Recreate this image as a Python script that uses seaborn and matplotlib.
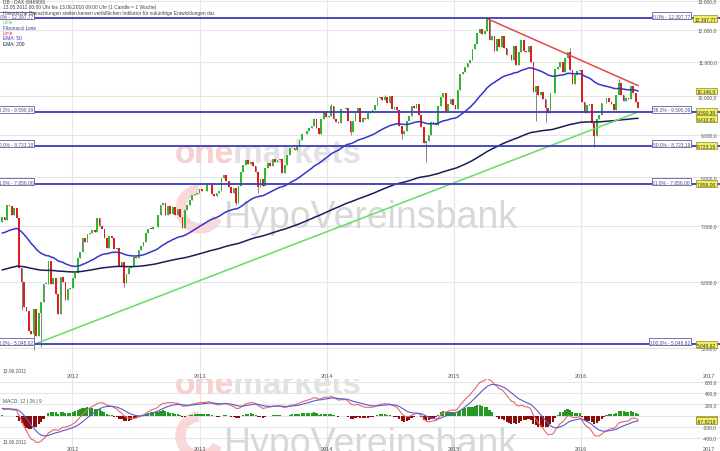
import numpy as np
import pandas as pd
import matplotlib
matplotlib.use("Agg")
import matplotlib.pyplot as plt
import matplotlib.transforms as mtransforms
from matplotlib.patches import Wedge
import seaborn as sns

# DAX weekly closes (weeks starting monday)
closes_2011 = [7164, 7121, 7419, 7400, 7220, 7344, 7158, 6236, 5998, 5602, 5537, 5246, 5189, 5573,
               5164, 5502, 5676, 5967, 5970, 6346, 5966, 6057, 5800, 5492, 6080, 6000, 5702, 5878, 5898]
closes_2012 = [6057, 6143, 6404, 6512, 6766, 6692, 6849, 6864, 6921, 6880, 7157, 6996, 6947, 6775,
               6583, 6801, 6762, 6561, 6579, 6272, 6339, 5978, 6131, 6230, 6264, 6416, 6410, 6557,
               6630, 6690, 6865, 6945, 6944, 6972, 6970, 7214, 7412, 7451, 7216, 7398, 7233, 7380,
               7203, 7335, 7163, 6950, 7309, 7405, 7518, 7614, 7636, 7655, 7756]
closes_2013 = [7715, 7702, 7833, 7834, 7634, 7593, 7661, 7708, 7987, 8058, 7913, 7795, 7658, 7767,
               7460, 7814, 8122, 8278, 8398, 8305, 8349, 8255, 8128, 7790, 7959, 7806, 8212, 8332,
               8262, 8410, 8349, 8391, 8416, 8104, 8276, 8509, 8676, 8666, 8622, 8725, 8868, 9010,
               9010, 9078, 9168, 9226, 9406, 9172, 9006, 9400, 9589, 9435]
closes_2014 = [9473, 9743, 9392, 9306, 9290, 9663, 9657, 9692, 9351, 9056, 9343, 9588, 9695, 9315,
               9409, 9402, 9556, 9581, 9630, 9768, 9944, 9987, 9913, 9987, 9815, 10009, 9666, 9720,
               9644, 9210, 9010, 9092, 9339, 9470, 9747, 9691, 9799, 9490, 9195, 8788, 8850, 8988,
               9326, 9291, 9252, 9732, 9980, 10087, 9594, 9787, 9922, 9765]
closes_2015 = [9648, 10167, 10649, 10694, 10846, 10963, 11051, 11402, 11551, 11902, 12039, 11868,
               11967, 12375, 11689, 11811, 11327, 11709, 11447, 11815, 11414, 11197, 11196, 11041,
               11492, 10890, 11315, 11674, 11347, 11309, 11490, 10985, 10124, 10298, 10038, 10123,
               9916, 9688, 9553, 10096, 10104, 10795, 10850, 10988, 10708, 11119, 11293, 10752,
               10340, 10608, 10727, 10743]
closes_2016 = [9849, 9545, 9765, 9798, 9286, 8967, 9388, 9513, 9824, 9831, 9950, 9851, 9795, 9622,
               10051, 10373, 10039, 9870, 9953, 9917, 10287, 10103, 9834, 9690]
first_open = 7069

# notable wick extremes
wick_low_dates = ["2011-08-08", "2011-09-12", "2011-10-03", "2012-05-28", "2013-04-15", "2013-06-17",
                  "2014-03-10", "2014-08-04", "2014-10-13", "2015-08-24", "2015-09-21", "2016-02-08"]
wick_low_values = [5550, 4965, 5020, 5914, 7420, 7655, 8990, 8903, 8355, 9338, 9325, 8699]
wick_high_dates = ["2014-01-13", "2014-06-16", "2015-04-06", "2015-11-30", "2016-04-18"]
wick_high_values = [9794, 10050, 12391, 11430, 10486]

# fibonacci retracement
fib_high = 12397.77
fib_low = 5048.62
fib_ratios = [0.0, 0.382, 0.5, 0.618, 1.0]

# hand drawn trend lines
green_line_dates = ["2011-09-12", "2016-06-13"]
green_line_values = [5048.62, 9580]
red_line_dates = ["2015-04-06", "2016-06-13"]
red_line_values = [12390, 10300]

# indicator start values (history before the chart window)
ema50_seed, ema200_seed = 6850, 6190
ema12_seed, ema26_seed, signal_seed = 7280, 7130, 120

years = [2012, 2013, 2014, 2015, 2016, 2017]
price_ticks = [5000, 6000, 7000, 8000, 9000, 10000, 11000, 12000, 13000]
macd_ticks = [600, 400, 200, -200, -400]
right_labels = ["10.146,0", "9.410,81"]
macd_labels = ["-28,1034", "-97,8219"]


def ema(values, span, start):
    alpha = 2 / (span + 1)
    out, prev = [], start
    for v in values:
        prev = alpha * v + (1 - alpha) * prev
        out.append(prev)
    return np.array(out)


def de(v, nd):
    s = f"{v:,.{nd}f}"
    return s.replace(",", "#").replace(".", ",").replace("#", ".")


closes = closes_2011 + closes_2012 + closes_2013 + closes_2014 + closes_2015 + closes_2016
dates = pd.date_range("2011-06-13", periods=len(closes), freq="W-MON")
df = pd.DataFrame({"date": dates, "close": closes})
df["open"] = [first_open] + closes[:-1]
df["high"] = df[["open", "close"]].max(axis=1)
df["low"] = df[["open", "close"]].min(axis=1)
for d, v in zip(wick_low_dates, wick_low_values):
    df.loc[df.date == pd.Timestamp(d), "low"] = v
for d, v in zip(wick_high_dates, wick_high_values):
    df.loc[df.date == pd.Timestamp(d), "high"] = v
df["ema50"] = ema(closes, 50, ema50_seed)
df["ema200"] = ema(closes, 200, ema200_seed)
df["macd"] = ema(closes, 12, ema12_seed) - ema(closes, 26, ema26_seed)
df["signal"] = ema(df["macd"].values, 9, signal_seed)
df["histo"] = df["macd"] - df["signal"]

sns.set_theme(style="white")
plt.rcParams["font.family"] = ["Liberation Sans", "DejaVu Sans"]

fig = plt.figure(figsize=(7.2, 4.52), dpi=100)
ax = fig.add_axes([0, 72 / 452, 1, 380 / 452])
ax2 = fig.add_axes([0, 0, 1, 72 / 452])
# main panel drawn last so its background hides the MACD watermark overflow
ax.set_zorder(2)
ax2.set_zorder(1)
renderer = fig.canvas.get_renderer()

xmin, xmax = pd.Timestamp("2011-06-07"), pd.Timestamp("2017-02-03")
grid_c = "#e6e6e6"
txt_c = "#555555"
fs = 3.5


def watermark(a, top_px, y_one, y_hvb):
    # bank logo watermark, positions in picture pixels
    def to_ax(x, y):
        return x / 720, (top_px - y) / a.bbox.height

    t = a.text(*to_ax(175, y_one), "onemarkets", transform=a.transAxes, fontsize=25, fontweight="bold",
               color="#e2e2e2", zorder=0.5)
    t.set_fontsize(25 * 187 / t.get_window_extent(renderer).width)
    t2 = a.text(*to_ax(175, y_one), "one", transform=a.transAxes, fontsize=t.get_fontsize(),
                fontweight="bold", color="#f7d0d0", zorder=0.6)
    h = a.text(*to_ax(224, y_hvb), "HypoVereinsbank", transform=a.transAxes, fontsize=28,
               color="#d8d8d8", zorder=0.5)
    h.set_fontsize(28 * 294 / h.get_window_extent(renderer).width)
    w = Wedge((200, 452 - (y_hvb - 18)), 24, 95, 330, width=9, transform=mtransforms.IdentityTransform(),
              color="#f8d8d8", zorder=0.5)
    a.add_patch(w)
    for item in (t, t2, h, w):
        item.set_clip_path(a.patch)


# ---------- main panel ----------
ax.set_yscale("log")
for y in price_ticks:
    ax.axhline(y, color=grid_c, lw=0.8, zorder=0)
for yr in years[:-1]:
    ax.axvline(pd.Timestamp(f"{yr}-01-01"), color=grid_c, lw=0.8, zorder=0)

watermark(ax, 380, 163, 228)

up = df.close >= df.open
colors = np.where(up, "#2fb82f", "#de1e1e")
ax.vlines(df.date, df.low, df.high, color="#555555", lw=0.5, zorder=2)
ax.bar(df.date, (df.close - df.open).abs().clip(lower=8), bottom=df[["open", "close"]].min(axis=1),
       width=5, color=colors, zorder=3, linewidth=0)

sns.lineplot(data=df, x="date", y="ema50", ax=ax, color="#3535c8", lw=1.1, zorder=4)
sns.lineplot(data=df, x="date", y="ema200", ax=ax, color="#1c1c5c", lw=1.1, zorder=4)
sns.lineplot(x=pd.to_datetime(green_line_dates), y=green_line_values, ax=ax, color="#66dd66", lw=1.1, zorder=4)
sns.lineplot(x=pd.to_datetime(red_line_dates), y=red_line_values, ax=ax, color="#e84848", lw=1.1, zorder=4)

fib_levels = [fib_high - r * (fib_high - fib_low) for r in fib_ratios]
bt = mtransforms.blended_transform_factory(ax.transAxes, ax.transData)
for r, lv in zip(fib_ratios, fib_levels):
    ax.axhline(lv, color="#3c3cb8", lw=1.3, zorder=5)
    lab = f"{r * 100:.1f}% - {de(lv, 2)}"
    box = dict(boxstyle="square,pad=0.2", fc="white", ec="#5a5ab8", lw=0.6)
    ax.text(33 / 720, lv, lab, transform=bt, ha="right", va="bottom", fontsize=fs, color=txt_c, bbox=box, zorder=6)
    ax.text(690 / 720, lv, lab, transform=bt, ha="right", va="bottom", fontsize=fs, color=txt_c, bbox=box, zorder=6)
    ax.text(716 / 720, lv, de(lv, 2), transform=bt, ha="right", va="center", fontsize=fs, color="#333333",
            bbox=dict(boxstyle="square,pad=0.2", fc="#f2ee5e", ec="#8a8a30", lw=0.5), zorder=7)

for v in price_ticks:
    ax.text(717 / 720, v, de(v, 1), transform=bt, ha="right", va="center", fontsize=fs, color=txt_c, zorder=1)
for lab, v in zip(right_labels, [df.ema50.iloc[-1], df.ema200.iloc[-1]]):
    ax.text(716 / 720, v, lab, transform=bt, ha="right", va="center", fontsize=fs, color="#333333",
            bbox=dict(boxstyle="square,pad=0.2", fc="#f2ee5e", ec="#8a8a30", lw=0.5), zorder=7)

bx = mtransforms.blended_transform_factory(ax.transData, ax.transAxes)
for yr in years:
    ax.text(pd.Timestamp(f"{yr}-01-01"), 0.003, str(yr), transform=bx, ha="center", va="bottom",
            fontsize=4, color=txt_c)
ax.text(3 / 720, (380 - 372) / 380, "13.06.2011", transform=ax.transAxes, fontsize=fs, color=txt_c, va="center")

ax.set_ylim(4590, 13078)
ax.set_xlim(xmin, xmax)

# ---------- MACD panel ----------
for y in macd_ticks + [0]:
    ax2.axhline(y, color=grid_c, lw=0.8, zorder=0)
for yr in years[:-1]:
    ax2.axvline(pd.Timestamp(f"{yr}-01-01"), color=grid_c, lw=0.8, zorder=0)

watermark(ax2, 452, 394, 455)

hist_colors = np.where(df["histo"] >= 0, "#229922", "#8c0c0c")
ax2.bar(df.date, df["histo"], width=6, color=hist_colors, zorder=2, linewidth=0)
sns.lineplot(data=df, x="date", y="macd", ax=ax2, color="#e06a6a", lw=0.8, zorder=3)
sns.lineplot(data=df, x="date", y="signal", ax=ax2, color="#5a5ad2", lw=0.8, zorder=3)

bt2 = mtransforms.blended_transform_factory(ax2.transAxes, ax2.transData)
for v in macd_ticks:
    ax2.text(717 / 720, v, de(v, 1), transform=bt2, ha="right", va="center", fontsize=fs, color=txt_c)
for lab, v in zip(macd_labels, [df.macd.iloc[-1], df.signal.iloc[-1]]):
    ax2.text(716 / 720, v, lab, transform=bt2, ha="right", va="center", fontsize=fs, color="#333333",
             bbox=dict(boxstyle="square,pad=0.2", fc="#f2ee5e", ec="#8a8a30", lw=0.5), zorder=7)
bx2 = mtransforms.blended_transform_factory(ax2.transData, ax2.transAxes)
for yr in years:
    ax2.text(pd.Timestamp(f"{yr}-01-01"), 0.0, str(yr), transform=bx2, ha="center", va="bottom",
             fontsize=4, color=txt_c)
ax2.text(3 / 720, (452 - 443) / 72, "13.06.2011", transform=ax2.transAxes, fontsize=fs, color=txt_c, va="center")
ax2.text(3 / 720, (452 - 402) / 72, "MACD: 12 | 26 | 9", transform=ax2.transAxes, fontsize=fs, color=txt_c,
         va="center")
ax2.set_ylim(-634, 652)
ax2.set_xlim(xmin, xmax)

for a in (ax, ax2):
    a.set_xlabel("")
    a.set_ylabel("")
    a.set_xticks([])
    a.set_yticks([])
    a.minorticks_off()
    for s in a.spines.values():
        s.set_visible(False)

# header and legend
header = ["DB - DAX (846900)",
          "13.05.2011 00:00 Uhr bis 13.06.2016 09:00 Uhr (1 Candle = 1 Woche)",
          "Historische Betrachtungen stellen keinen verläßlichen Indikator für zukünftige Entwicklungen dar."]
for i, line in enumerate(header):
    fig.text(3 / 720, 1 - (2.5 + 5.4 * i) / 452, line, fontsize=fs, color="#444444", va="center")
legend_items = [("Linie", "#55cc55"), ("Fibonacci Linie", "#3a3ab0"), ("Linie", "#e04040"),
                ("EMA: 50", "#3535c8"), ("EMA: 200", "#1c1c5c")]
for i, (name, c) in enumerate(legend_items):
    fig.text(3 / 720, 1 - (22.7 + 5.4 * i) / 452, name, fontsize=fs, color=c, va="center")

fig.savefig("out.png", dpi=100)
